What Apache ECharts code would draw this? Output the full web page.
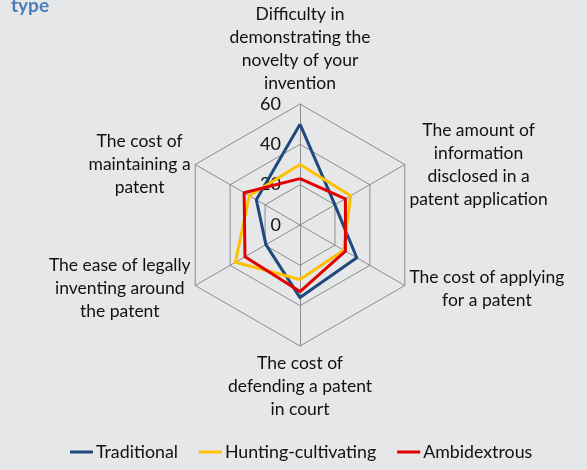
<!DOCTYPE html>
<html>
<head>
<meta charset="utf-8">
<script src="https://cdn.jsdelivr.net/npm/echarts@6/dist/echarts.min.js"></script>
<style>
  html, body { margin: 0; padding: 0; background: #e6e7e9; }
  #chart-container { width: 587px; height: 470px; }
</style>
</head>
<body>
<div id="chart-container"></div>
<script>
// indicators listed counter-clockwise from the top (echarts radar order)
var indicatorNames = [
  'Difficulty in\ndemonstrating the\nnovelty of your\ninvention',
  'The cost of\nmaintaining a\npatent',
  'The ease of legally\ninventing around\nthe patent',
  'The cost of\ndefending a patent\nin court',
  'The cost of applying\nfor a patent',
  'The amount of\ninformation\ndisclosed in a\npatent application'
];
var seriesNames = ['Traditional', 'Hunting-cultivating', 'Ambidextrous'];
var traditional = [50, 25, 19.5, 36, 32.5, 20];
var huntingCultivating = [30, 29, 37, 27, 25, 29];
var ambidextrous = [23, 32, 31.5, 33, 26, 26];
var colors = ['#1f497d', '#ffc000', '#e00000'];

var dom = document.getElementById('chart-container');
var myChart = echarts.init(dom, null, { renderer: 'canvas' });

var font = 'Lato';
var textColor = '#111111';

var option = {
  backgroundColor: '#e6e7e9',
  color: colors,
  title: {
    text: 'type',
    left: 6,
    top: -9,
    textStyle: { color: '#4a7ebb', fontSize: 19, fontWeight: 'bold', fontFamily: font }
  },
  legend: {
    bottom: 4,
    left: 65,
    itemWidth: 23,
    itemHeight: 3,
    itemGap: 21,
    icon: 'rect',
    textStyle: { fontSize: 17.8, fontFamily: font, color: textColor, padding: [0, 0, 0, -2] },
    data: seriesNames
  },
  radar: {
    center: [300, 225],
    radius: 121,
    startAngle: 90,
    shape: 'polygon',
    splitNumber: 3,
    axisName: {
      color: textColor,
      fontFamily: font,
      fontSize: 17.5,
      lineHeight: 23,
      padding: [3, 2, 0, 2],
      formatter: function (name) {
        return name.split('\n').map(function (l) { return '{c|' + l + '}'; }).join('\n');
      },
      rich: {
        c: { align: 'center', fontSize: 17.5, lineHeight: 23, fontFamily: font, color: textColor }
      }
    },
    nameGap: 3,
    splitLine: { lineStyle: { color: '#8c8c8c', width: 1 } },
    splitArea: { show: false },
    axisLine: { lineStyle: { color: '#8c8c8c', width: 1 } },
    indicator: indicatorNames.map(function (n, i) {
      var ind = { name: n, min: 0, max: 60 };
      if (i === 0) {
        ind.axisLabel = {
          show: true,
          margin: 19,
          fontSize: 18,
          fontFamily: font,
          color: textColor
        };
      }
      return ind;
    })
  },
  series: [{
    type: 'radar',
    symbol: 'none',
    lineStyle: { width: 3 },
    data: [
      { name: seriesNames[0], value: traditional, lineStyle: { color: colors[0], width: 3 } },
      { name: seriesNames[1], value: huntingCultivating, lineStyle: { color: colors[1], width: 3 } },
      { name: seriesNames[2], value: ambidextrous, lineStyle: { color: colors[2], width: 3 } }
    ]
  }]
};

myChart.setOption(option);
window.addEventListener('resize', myChart.resize);
</script>
</body>
</html>
